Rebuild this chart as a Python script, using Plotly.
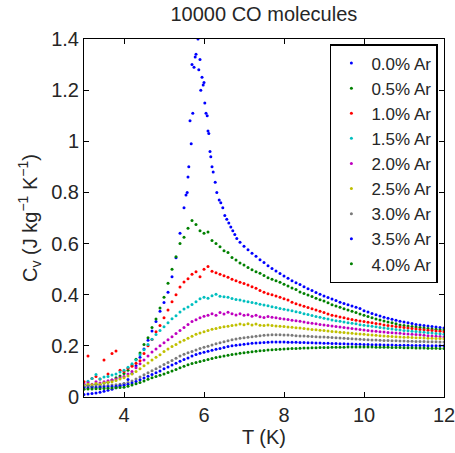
import plotly.graph_objects as go

T_GRID = [3.0, 3.1, 3.2, 3.3, 3.4, 3.5, 3.6, 3.7, 3.8, 3.9,
          4.0, 4.1, 4.2, 4.3, 4.4, 4.5, 4.6, 4.7, 4.8, 4.9,
          5.0, 5.1, 5.2, 5.3, 5.4, 5.5, 5.6, 5.7, 5.8, 5.9,
          6.0, 6.1, 6.2, 6.3, 6.4, 6.5, 6.6, 6.7, 6.8, 6.9,
          7.0, 7.1, 7.2, 7.3, 7.4, 7.5, 7.6, 7.7, 7.8, 7.9,
          8.0, 8.1, 8.2, 8.3, 8.4, 8.5, 8.6, 8.7, 8.8, 8.9,
          9.0, 9.1, 9.2, 9.3, 9.4, 9.5, 9.6, 9.7, 9.8, 9.9,
          10.0, 10.1, 10.2, 10.3, 10.4, 10.5, 10.6, 10.7, 10.8, 10.9,
          11.0, 11.1, 11.2, 11.3, 11.4, 11.5, 11.6, 11.7, 11.8, 11.9,
          12.0]

T_00 = [3.0, 3.1, 3.2, 3.3, 3.4, 3.5, 3.6, 3.7, 3.8, 3.9,
        4.0, 4.1, 4.2, 4.3, 4.4, 4.5, 4.6, 4.7, 4.8, 4.9,
        5.0, 5.1, 5.2, 5.3, 5.4, 5.5,
        5.55, 5.58, 5.60, 5.62, 5.65, 5.68, 5.70, 5.72, 5.75, 5.78,
        5.80, 5.85, 5.87, 5.90, 5.92, 5.95, 5.98, 6.00, 6.02, 6.05,
        6.08, 6.10, 6.12, 6.15, 6.17, 6.20, 6.23, 6.28, 6.32, 6.38,
        6.42, 6.47, 6.52, 6.57, 6.62, 6.67, 6.72, 6.77, 6.82, 6.90,
        7.0, 7.1, 7.2, 7.3, 7.4, 7.5, 7.6, 7.7, 7.8, 7.9,
        8.0, 8.1, 8.2, 8.3, 8.4, 8.5, 8.6, 8.7, 8.8, 8.9,
        9.0, 9.1, 9.2, 9.3, 9.4, 9.5, 9.6, 9.7, 9.8, 9.9,
        10.0, 10.1, 10.2, 10.3, 10.4, 10.5, 10.6, 10.7, 10.8, 10.9,
        11.0, 11.1, 11.2, 11.3, 11.4, 11.5, 11.6, 11.7, 11.8, 11.9,
        12.0]

CV_00 = [0.010, 0.012, 0.014, 0.016, 0.019, 0.022, 0.026, 0.030, 0.036, 0.043,
         0.052, 0.068, 0.092, 0.122, 0.155, 0.188, 0.222, 0.258, 0.295, 0.335,
         0.370, 0.410, 0.470, 0.545, 0.640, 0.740,
         0.790, 0.800, 0.860, 0.900, 1.080, 0.990, 1.300, 1.110, 1.290, 1.330,
         1.340, 1.400, 1.280, 1.320, 1.200, 1.250, 1.220, 1.230, 1.150, 1.110,
         1.100, 1.040, 1.030, 0.960, 0.940, 0.900, 0.880, 0.840, 0.800, 0.770,
         0.760, 0.740, 0.710, 0.695, 0.680, 0.665, 0.650, 0.635, 0.620, 0.605,
         0.590, 0.576, 0.562, 0.550, 0.537, 0.526, 0.513, 0.503, 0.493, 0.483,
         0.473, 0.464, 0.455, 0.447, 0.440, 0.431, 0.423, 0.416, 0.409, 0.402,
         0.395, 0.389, 0.383, 0.377, 0.371, 0.366, 0.361, 0.356, 0.351, 0.346,
         0.337, 0.332, 0.327, 0.322, 0.317, 0.312, 0.308, 0.304, 0.300, 0.296,
         0.293, 0.290, 0.287, 0.284, 0.282, 0.280, 0.278, 0.276, 0.274, 0.272,
         0.270]

CV_05 = [0.040, 0.046, 0.042, 0.050, 0.048, 0.055, 0.058, 0.066, 0.075, 0.082,
         0.092, 0.105, 0.125, 0.148, 0.172, 0.205, 0.232, 0.272, 0.305, 0.348,
         0.390, 0.445, 0.500, 0.548, 0.600, 0.625, 0.660, 0.690, 0.675, 0.650,
         0.640, 0.645, 0.612, 0.600, 0.588, 0.572, 0.565, 0.546, 0.536, 0.524,
         0.516, 0.506, 0.498, 0.490, 0.484, 0.475, 0.466, 0.460, 0.455, 0.449,
         0.441, 0.434, 0.426, 0.420, 0.411, 0.405, 0.399, 0.393, 0.386, 0.380,
         0.375, 0.369, 0.361, 0.356, 0.351, 0.345, 0.340, 0.335, 0.330, 0.325,
         0.320, 0.315, 0.310, 0.305, 0.301, 0.297, 0.293, 0.290, 0.286, 0.282,
         0.280, 0.278, 0.276, 0.274, 0.272, 0.270, 0.268, 0.266, 0.265, 0.263,
         0.262]

CV_10 = [0.060, 0.160, 0.072, 0.080, 0.070, 0.145, 0.090, 0.170, 0.180, 0.105,
         0.100, 0.112, 0.120, 0.132, 0.142, 0.170, 0.200, 0.225, 0.255, 0.280,
         0.310, 0.340, 0.372, 0.400, 0.430, 0.450, 0.462, 0.480, 0.490, 0.470,
         0.500, 0.510, 0.492, 0.486, 0.480, 0.474, 0.468, 0.460, 0.455, 0.449,
         0.444, 0.438, 0.431, 0.425, 0.416, 0.410, 0.404, 0.400, 0.395, 0.390,
         0.384, 0.379, 0.371, 0.365, 0.360, 0.355, 0.350, 0.345, 0.340, 0.335,
         0.330, 0.325, 0.320, 0.317, 0.313, 0.310, 0.306, 0.303, 0.300, 0.297,
         0.295, 0.292, 0.290, 0.287, 0.285, 0.282, 0.280, 0.278, 0.276, 0.274,
         0.272, 0.270, 0.268, 0.266, 0.264, 0.263, 0.261, 0.260, 0.258, 0.257,
         0.255]

CV_15 = [0.050, 0.062, 0.072, 0.088, 0.070, 0.078, 0.080, 0.086, 0.090, 0.098,
         0.105, 0.116, 0.130, 0.145, 0.165, 0.185, 0.205, 0.226, 0.244, 0.260,
         0.275, 0.290, 0.306, 0.318, 0.332, 0.344, 0.352, 0.362, 0.372, 0.384,
         0.390, 0.386, 0.396, 0.402, 0.394, 0.392, 0.390, 0.385, 0.381, 0.379,
         0.375, 0.372, 0.370, 0.367, 0.363, 0.360, 0.357, 0.353, 0.350, 0.346,
         0.343, 0.340, 0.337, 0.333, 0.330, 0.326, 0.323, 0.319, 0.315, 0.312,
         0.308, 0.305, 0.301, 0.298, 0.296, 0.293, 0.290, 0.288, 0.286, 0.283,
         0.281, 0.279, 0.277, 0.275, 0.272, 0.270, 0.268, 0.266, 0.264, 0.262,
         0.260, 0.259, 0.257, 0.256, 0.254, 0.253, 0.251, 0.250, 0.248, 0.247,
         0.245]

CV_20 = [0.050, 0.056, 0.050, 0.060, 0.055, 0.060, 0.064, 0.066, 0.070, 0.075,
         0.080, 0.090, 0.100, 0.114, 0.130, 0.145, 0.160, 0.176, 0.188, 0.200,
         0.212, 0.224, 0.236, 0.248, 0.260, 0.272, 0.284, 0.295, 0.302, 0.310,
         0.316, 0.320, 0.326, 0.320, 0.330, 0.325, 0.331, 0.326, 0.321, 0.326,
         0.320, 0.322, 0.316, 0.320, 0.314, 0.311, 0.315, 0.312, 0.310, 0.307,
         0.305, 0.303, 0.300, 0.298, 0.296, 0.293, 0.290, 0.288, 0.286, 0.284,
         0.282, 0.280, 0.278, 0.276, 0.274, 0.272, 0.270, 0.268, 0.266, 0.264,
         0.262, 0.260, 0.258, 0.257, 0.255, 0.254, 0.252, 0.251, 0.250, 0.249,
         0.247, 0.246, 0.245, 0.244, 0.243, 0.241, 0.240, 0.239, 0.238, 0.237,
         0.235]

CV_25 = [0.045, 0.050, 0.048, 0.053, 0.050, 0.055, 0.058, 0.060, 0.065, 0.070,
         0.075, 0.082, 0.090, 0.100, 0.110, 0.122, 0.133, 0.145, 0.155, 0.165,
         0.178, 0.188, 0.197, 0.205, 0.215, 0.222, 0.230, 0.238, 0.245, 0.250,
         0.255, 0.260, 0.265, 0.268, 0.272, 0.275, 0.277, 0.280, 0.282, 0.285,
         0.283, 0.286, 0.282, 0.285, 0.281, 0.280, 0.282, 0.280, 0.278, 0.277,
         0.276, 0.274, 0.273, 0.271, 0.270, 0.268, 0.266, 0.264, 0.263, 0.261,
         0.260, 0.258, 0.256, 0.255, 0.253, 0.252, 0.250, 0.249, 0.247, 0.246,
         0.245, 0.243, 0.242, 0.241, 0.240, 0.239, 0.238, 0.237, 0.236, 0.235,
         0.234, 0.234, 0.233, 0.232, 0.232, 0.231, 0.230, 0.230, 0.229, 0.229,
         0.228]

CV_30 = [0.040, 0.042, 0.040, 0.043, 0.042, 0.044, 0.045, 0.047, 0.048, 0.050,
         0.053, 0.057, 0.063, 0.070, 0.078, 0.087, 0.095, 0.103, 0.110, 0.118,
         0.127, 0.135, 0.143, 0.152, 0.160, 0.167, 0.173, 0.178, 0.184, 0.190,
         0.195, 0.198, 0.203, 0.208, 0.212, 0.216, 0.220, 0.224, 0.227, 0.230,
         0.232, 0.234, 0.236, 0.238, 0.240, 0.241, 0.242, 0.243, 0.243, 0.243,
         0.242, 0.242, 0.241, 0.240, 0.239, 0.239, 0.238, 0.237, 0.236, 0.235,
         0.235, 0.234, 0.233, 0.232, 0.231, 0.230, 0.229, 0.228, 0.227, 0.226,
         0.225, 0.224, 0.223, 0.223, 0.222, 0.221, 0.221, 0.220, 0.220, 0.219,
         0.219, 0.218, 0.218, 0.217, 0.217, 0.217, 0.216, 0.216, 0.216, 0.215,
         0.215]

CV_35 = [0.035, 0.035, 0.036, 0.037, 0.038, 0.039, 0.040, 0.041, 0.042, 0.044,
         0.046, 0.050, 0.055, 0.061, 0.067, 0.074, 0.081, 0.088, 0.095, 0.102,
         0.110, 0.117, 0.125, 0.132, 0.140, 0.147, 0.153, 0.160, 0.166, 0.171,
         0.175, 0.179, 0.183, 0.187, 0.190, 0.194, 0.197, 0.200, 0.202, 0.204,
         0.206, 0.208, 0.210, 0.211, 0.212, 0.213, 0.214, 0.215, 0.215, 0.215,
         0.215, 0.214, 0.214, 0.214, 0.213, 0.213, 0.212, 0.212, 0.211, 0.211,
         0.210, 0.210, 0.209, 0.209, 0.208, 0.208, 0.207, 0.207, 0.206, 0.206,
         0.205, 0.205, 0.204, 0.204, 0.204, 0.203, 0.203, 0.203, 0.202, 0.202,
         0.202, 0.202, 0.201, 0.201, 0.201, 0.201, 0.200, 0.200, 0.200, 0.200,
         0.200]

CV_40 = [0.030, 0.031, 0.031, 0.032, 0.032, 0.033, 0.034, 0.035, 0.036, 0.037,
         0.038, 0.042, 0.047, 0.052, 0.057, 0.063, 0.069, 0.075, 0.080, 0.085,
         0.090, 0.096, 0.102, 0.108, 0.114, 0.120, 0.126, 0.131, 0.135, 0.139,
         0.143, 0.147, 0.151, 0.154, 0.157, 0.160, 0.163, 0.166, 0.168, 0.171,
         0.173, 0.175, 0.177, 0.179, 0.181, 0.182, 0.184, 0.185, 0.186, 0.187,
         0.188, 0.189, 0.190, 0.190, 0.191, 0.192, 0.192, 0.193, 0.193, 0.194,
         0.194, 0.194, 0.195, 0.195, 0.195, 0.195, 0.196, 0.196, 0.196, 0.196,
         0.196, 0.196, 0.196, 0.195, 0.195, 0.195, 0.195, 0.194, 0.194, 0.194,
         0.193, 0.193, 0.193, 0.192, 0.192, 0.192, 0.191, 0.191, 0.191, 0.190,
         0.190]

LABELS = ["0.0% Ar", "0.5% Ar", "1.0% Ar", "1.5% Ar", "2.0% Ar",
          "2.5% Ar", "3.0% Ar", "3.5% Ar", "4.0% Ar"]
SERIES = [(T_00, CV_00), (T_GRID, CV_05), (T_GRID, CV_10), (T_GRID, CV_15),
          (T_GRID, CV_20), (T_GRID, CV_25), (T_GRID, CV_30), (T_GRID, CV_35),
          (T_GRID, CV_40)]
COLORS = ["#0000ff", "#008000", "#ff0000", "#00bfbf", "#bf00bf",
          "#bfbf00", "#7a7a7a", "#0000ff", "#008000"]

FONT = "Liberation Sans, Arial, Helvetica, sans-serif"
TXT = "#262626"

fig = go.Figure()
for (xs, ys), name, col in zip(SERIES, LABELS, COLORS):
    fig.add_trace(go.Scatter(x=xs, y=ys, mode="markers", name=name,
                             marker=dict(size=3, color=col, line=dict(width=0))))

axis_common = dict(showline=True, linecolor="black", linewidth=1, mirror="ticks",
                   ticks="inside", ticklen=5, tickcolor="black", showgrid=False,
                   zeroline=False, automargin=False, ticklabeloverflow="allow",
                   tickfont=dict(family=FONT, size=20, color=TXT))

fig.update_layout(
    width=455, height=453,
    margin=dict(l=84, r=11, t=39, b=56),
    paper_bgcolor="white", plot_bgcolor="white",
    font=dict(family=FONT, size=20, color=TXT),
    title=dict(text="10000 CO molecules", x=0.58, xanchor="center", y=0.985,
               yanchor="top", font=dict(family=FONT, size=20, color=TXT)),
    xaxis=dict(range=[3, 12], tickvals=[4, 6, 8, 10, 12],
               title=dict(text="T (K)", standoff=2,
                          font=dict(family=FONT, size=20, color=TXT)),
               **axis_common),
    yaxis=dict(range=[0, 1.4], tickvals=[0, 0.2, 0.4, 0.6, 0.8, 1, 1.2, 1.4],
               title=dict(text="C<sub>v</sub> (J kg<sup>−1</sup> K<sup>−1</sup>)",
                          standoff=8, font=dict(family=FONT, size=20, color=TXT)),
               **axis_common),
    legend=dict(x=0.983, xanchor="right", y=0.986, yanchor="top",
                bgcolor="white", bordercolor="black", borderwidth=1.5,
                font=dict(family=FONT, size=17, color=TXT),
                itemsizing="trace", tracegroupgap=0),
    showlegend=True,
)

fig.write_html("out.html")
